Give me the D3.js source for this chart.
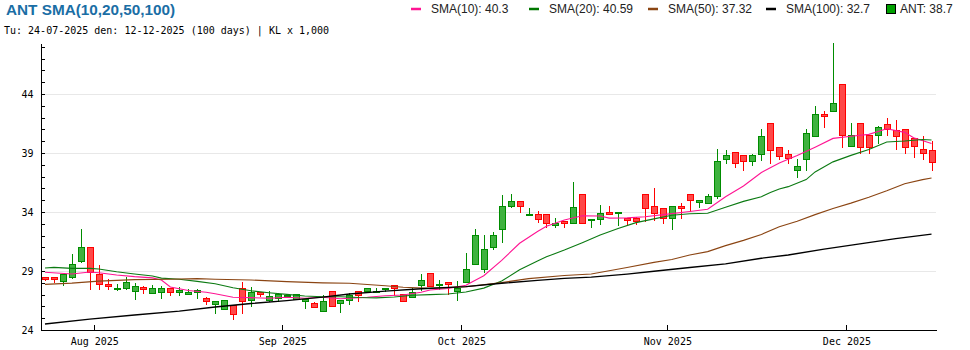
<!DOCTYPE html>
<html><head><meta charset="utf-8">
<script src="https://cdn.jsdelivr.net/npm/d3@7/dist/d3.min.js"></script>
<style>body{margin:0;background:#fff}svg{display:block}</style>
</head><body><svg id="c" width="970" height="350"></svg>
<script>
const dates = [
"2025-07-24","2025-07-25","2025-07-28","2025-07-29","2025-07-30","2025-07-31",
"2025-08-01","2025-08-04","2025-08-05","2025-08-06","2025-08-07","2025-08-08","2025-08-11","2025-08-12","2025-08-13","2025-08-14","2025-08-15","2025-08-18","2025-08-19","2025-08-20","2025-08-21","2025-08-22","2025-08-25","2025-08-26","2025-08-27","2025-08-28","2025-08-29",
"2025-09-03","2025-09-04","2025-09-05","2025-09-08","2025-09-09","2025-09-10","2025-09-11","2025-09-12","2025-09-15","2025-09-16","2025-09-17","2025-09-18","2025-09-19","2025-09-22","2025-09-23","2025-09-24","2025-09-25","2025-09-26","2025-09-29","2025-09-30",
"2025-10-01","2025-10-02","2025-10-03","2025-10-06","2025-10-07","2025-10-08","2025-10-09","2025-10-10","2025-10-13","2025-10-14","2025-10-15","2025-10-16","2025-10-17","2025-10-20","2025-10-21","2025-10-22","2025-10-23","2025-10-24","2025-10-27","2025-10-28","2025-10-29","2025-10-30","2025-10-31",
"2025-11-03","2025-11-04","2025-11-05","2025-11-06","2025-11-07","2025-11-10","2025-11-11","2025-11-12","2025-11-13","2025-11-14","2025-11-17","2025-11-18","2025-11-19","2025-11-20","2025-11-21","2025-11-24","2025-11-25","2025-11-26","2025-11-27","2025-11-28",
"2025-12-01","2025-12-02","2025-12-03","2025-12-04","2025-12-05","2025-12-08","2025-12-09","2025-12-10","2025-12-11","2025-12-12"];

const open = [28.47,28.47,28.12,28.47,29.87,31.0,28.75,27.9,27.45,27.53,
27.3,27.65,27.1,27.2,27.53,27.25,27.05,27.25,26.71,26.18,
25.8,26.09,27.55,26.51,27.25,26.54,26.69,27.0,26.65,26.5,
26.26,25.58,27.28,26.26,26.51,27.28,27.28,27.2,27.48,27.78,
27.02,26.77,27.78,28.8,27.79,28.04,27.28,28.04,29.57,29.14,
31.0,32.53,34.48,34.9,33.72,33.8,33.8,32.87,33.24,33.04,
35.5,33.29,33.45,34.0,33.92,33.46,33.49,35.5,34.48,34.37,
33.46,34.51,35.5,34.82,34.74,35.33,38.46,39.06,38.8,38.29,
38.88,41.51,39.48,38.88,37.53,38.46,40.41,42.27,42.52,44.82,
39.57,41.51,40.5,40.5,41.42,40.97,41.0,40.24,39.33,39.23];
const high = [28.47,28.47,28.75,30.44,32.56,31.0,29.5,28.3,27.9,28.47,
28.0,27.7,27.8,27.7,27.53,27.62,27.45,27.5,26.83,26.49,
26.54,26.09,28.08,27.67,27.25,27.3,27.15,27.0,27.02,26.6,
26.4,26.97,27.28,26.54,27.1,27.28,27.53,27.56,27.56,27.78,
27.02,27.55,28.75,28.8,28.24,28.04,28.15,30.53,32.56,32.02,
32.3,35.44,35.53,34.9,34.34,34.07,33.8,33.49,33.24,36.52,
35.5,33.37,34.59,34.5,34.0,33.46,33.55,35.5,36.03,34.37,
34.48,34.76,35.5,34.99,35.5,39.33,39.24,39.06,38.8,38.9,
41.03,41.51,39.48,39.25,38.46,41.03,42.98,42.6,48.3,44.82,
41.51,41.51,40.5,41.3,41.97,41.83,41.0,40.24,40.41,40.05];
const low = [28.24,28.1,27.8,28.4,29.8,27.5,27.5,27.5,27.35,27.5,
26.6,27.17,27.1,26.74,27.0,27.0,27.05,26.74,26.23,25.47,
25.8,24.96,25.48,26.06,26.9,26.5,26.45,27.0,26.6,25.84,
25.92,25.58,26.0,25.55,26.2,26.5,27.28,27.2,27.28,26.97,
26.5,26.77,27.4,27.7,27.45,27.02,26.57,28.04,29.57,28.95,
30.9,31.49,34.4,34.03,33.72,33.18,32.7,32.75,32.75,33.04,
33.04,32.7,32.97,33.8,32.9,32.9,33.0,33.27,33.35,33.04,
32.53,33.46,34.07,34.4,34.74,35.16,38.12,37.79,37.53,37.96,
38.4,38.18,38.46,38.12,36.94,37.53,40.41,41.23,42.52,39.48,
39.57,39.0,38.97,39.88,40.5,39.31,39.0,38.7,38.46,37.53];
const close = [28.35,28.35,28.75,29.57,31.0,28.95,27.87,27.73,27.55,28.04,
27.73,27.5,27.53,27.53,27.2,27.36,27.25,27.36,26.46,26.49,
26.54,25.38,26.5,27.25,27.08,26.91,27.02,27.0,27.02,26.6,
25.92,26.43,26.0,26.54,26.94,26.99,27.53,27.28,27.56,27.53,
26.5,27.22,28.24,27.76,27.9,27.87,27.56,29.14,32.02,30.86,
32.02,34.51,34.9,34.48,33.8,33.37,33.04,33.04,33.04,34.4,
33.04,33.37,33.89,33.8,34.0,33.35,33.27,34.31,33.89,33.46,
34.48,34.31,34.99,34.99,35.33,38.29,38.8,38.12,38.29,38.8,
40.41,39.23,38.71,38.6,37.87,40.66,42.27,42.16,43.2,40.5,
40.5,39.48,39.48,41.23,41.0,40.41,39.48,39.59,38.97,38.24];

const sma10Days = [0,3,5,6,8,10,12,13,14,16,18,19,21,23,25,27,29,31,33,34,36,38,40,42,43,45,47,49,51,53,55,56,58,60,62,63,65,67,70,72,74,76,78,80,82,84,86,88,90,92,94,96,97,99];
const sma10 = [28.89,28.75,28.92,28.85,28.66,28.52,28.42,28.24,27.65,27.35,27.2,27.07,26.77,26.74,26.69,26.77,26.69,26.77,26.65,26.69,26.77,26.9,26.97,27.2,27.39,27.52,27.8,28.6,29.9,31.35,32.35,32.8,33.32,33.68,33.66,33.48,33.5,33.6,33.86,34.05,34.23,35.3,36.2,37.35,38.15,38.8,39.5,40.24,40.42,40.58,41.06,40.75,40.3,39.8];
const sma20Days = [0,1,3,5,6,8,10,12,13,15,17,19,21,23,25,27,29,31,33,35,37,39,41,43,45,47,49,51,53,55,56,58,60,62,64,66,68,70,72,74,76,78,80,81,82,83,85,86,88,90,92,94,96,98,99];
const sma20 = [29.25,29.31,29.22,29.22,29.17,28.94,28.75,28.58,28.4,28.3,28.12,27.92,27.58,27.32,27.16,27.02,26.88,26.82,26.82,26.75,26.72,26.8,26.95,27.0,27.05,27.22,27.55,28.15,29.1,29.85,30.2,30.78,31.4,32.05,32.6,33.1,33.42,33.72,33.85,33.9,34.4,34.9,35.3,35.65,35.95,36.15,36.75,37.4,38.25,38.8,39.3,39.93,40.02,40.15,40.1];
const sma50Days = [0,3,6,10,14,17,19,23,27,31,34,38,40,43,47,51,54,58,61,65,68,70,72,74,76,78,80,82,84,86,88,90,92,94,96,98,99];
const sma50 = [27.87,27.97,28.14,28.27,28.3,28.35,28.3,28.24,28.1,28.0,27.96,27.75,27.62,27.53,27.67,28.02,28.35,28.62,28.75,29.3,29.73,29.98,30.36,30.64,31.15,31.6,32.1,32.75,33.22,33.78,34.3,34.75,35.25,35.8,36.4,36.75,36.88];
const sma100Days = [0,5,10,15,19,23,27,31,34,38,42,47,51,55,58,61,65,68,72,76,80,83,87,91,95,99];
const sma100 = [24.51,24.92,25.27,25.6,25.95,26.25,26.49,26.78,27.05,27.3,27.5,27.67,27.96,28.2,28.38,28.48,28.74,28.98,29.3,29.6,30.08,30.36,30.85,31.3,31.75,32.12];

const yTicks = [24,29,34,39,44];
const yMinor = d3.range(24,49,1);
const monthStarts = ["2025-08-01","2025-09-03","2025-10-01","2025-11-03","2025-12-01"];
const monthLabels = ["Aug 2025","Sep 2025","Oct 2025","Nov 2025","Dec 2025"];

const legendNames = ["SMA(10)","SMA(20)","SMA(50)","SMA(100)","ANT"];
const legendValues = ["40.3","40.59","37.32","32.7","38.7"];
const titleText = "ANT SMA(10,20,50,100)";
const subtitleText = "Tu: 24-07-2025 den: 12-12-2025 (100 days) | KL x 1,000";

// ---- layout ----
const svg = d3.select("#c");
const L = 40.5, R = 936, T = 43.3, B = 330;
const x = d3.scaleBand().domain(d3.range(dates.length)).range([L, R]);
const xi = d3.scaleLinear().domain([0, dates.length]).range([L, R]);
const y = d3.scaleLinear().domain([24, 48.3]).range([B, T]);
const cx = i => x(i) + x.bandwidth() / 2;

const UP_FILL = "#3fb23f", UP_LINE = "#008c00", DN_FILL = "#ff4848", DN_LINE = "#ff0000";
const C10 = "#ff1493", C20 = "#0b7a12", C50 = "#8b4513", C100 = "#000000";

// grid
svg.append("g").selectAll("line").data(yTicks.filter(v => v > 24)).join("line")
  .attr("x1", L + 1).attr("x2", R)
  .attr("y1", d => Math.round(y(d)) + 0.5).attr("y2", d => Math.round(y(d)) + 0.5)
  .attr("stroke", "#e8e8e8").attr("stroke-width", 1);

// candles
const cg = svg.append("g").attr("shape-rendering", "crispEdges");
d3.range(dates.length).forEach(i => {
  const up = close[i] >= open[i];
  const px = Math.round(cx(i) - 3);
  cg.append("line")
    .attr("x1", px + 3.5).attr("x2", px + 3.5)
    .attr("y1", Math.round(y(high[i]))).attr("y2", Math.round(y(low[i])) + 1)
    .attr("stroke", up ? UP_LINE : DN_LINE).attr("stroke-width", 1);
  const top = Math.round(y(Math.max(open[i], close[i])));
  const bot = Math.round(y(Math.min(open[i], close[i])));
  cg.append("rect")
    .attr("x", px + 0.5).attr("width", 6)
    .attr("y", top + 0.5).attr("height", Math.max(1, bot - top))
    .attr("fill", up ? UP_FILL : DN_FILL)
    .attr("stroke", up ? UP_LINE : DN_LINE).attr("stroke-width", 1);
});

// SMA lines
const line = d3.line().x(d => cx(d[0])).y(d => y(d[1]));
[[sma10Days, sma10, C10, 1.1], [sma20Days, sma20, C20, 1.1], [sma50Days, sma50, C50, 1.15], [sma100Days, sma100, C100, 1.35]]
  .forEach(([days, vals, col, w]) => {
    svg.append("path").datum(days.map((d, k) => [d, vals[k]]))
      .attr("d", line).attr("fill", "none").attr("stroke", col).attr("stroke-width", w);
  });

// y axis
const yAxis = d3.axisLeft(y).tickValues(yMinor).tickSize(-4).tickSizeOuter(0).tickPadding(7)
  .tickFormat(d => yTicks.includes(d) ? String(d) : "");
const ya = svg.append("g").attr("transform", `translate(${L},0)`).call(yAxis);
ya.selectAll("text").attr("font-family", "DejaVu Sans Mono, monospace").attr("font-size", 10).attr("fill", "#000");
ya.selectAll("line,path").attr("stroke", "#000").attr("shape-rendering", "crispEdges");

// x axis
const monthIdx = monthStarts.map(d => dates.indexOf(d));
const xAxis = d3.axisBottom(xi).tickValues(monthIdx).tickSize(-5).tickSizeOuter(0).tickPadding(8)
  .tickFormat((d, k) => monthLabels[k]);
const xa = svg.append("g").attr("transform", `translate(0,${B})`).call(xAxis);
xa.selectAll("text").attr("font-family", "DejaVu Sans Mono, monospace").attr("font-size", 10).attr("fill", "#000");
xa.selectAll("line,path").attr("stroke", "#000").attr("shape-rendering", "crispEdges");

// title & subtitle
svg.append("text").attr("x", 6).attr("y", 15).text(titleText)
  .attr("font-family", "Liberation Sans, Arial, sans-serif").attr("font-weight", "bold")
  .attr("font-size", 15.3).attr("fill", "#1a6ea5");
svg.append("text").attr("x", 4).attr("y", 34).text(subtitleText)
  .attr("font-family", "DejaVu Sans Mono, monospace").attr("font-size", 10).attr("fill", "#000");

// legend
const legCols = [C10, "#007700", C50, C100, "#00a000"];
const legX = [411, 529, 648, 766, 886];
const lg = svg.append("g").attr("font-family", "Liberation Sans, Arial, sans-serif").attr("font-size", 12);
legendNames.forEach((n, k) => {
  if (k < 4) {
    lg.append("line").attr("x1", legX[k]).attr("x2", legX[k] + 10).attr("y1", 9).attr("y2", 9)
      .attr("stroke", legCols[k]).attr("stroke-width", 2.5);
    lg.append("text").attr("x", legX[k] + 20).attr("y", 13).text(`${n}: ${legendValues[k]}`).attr("fill", "#222");
  } else {
    lg.append("rect").attr("x", legX[k] + 0.5).attr("y", 4.5).attr("width", 9).attr("height", 9)
      .attr("fill", legCols[k]).attr("stroke", "#000").attr("stroke-width", 1);
    lg.append("text").attr("x", legX[k] + 14).attr("y", 13).text(`${n}: ${legendValues[k]}`).attr("fill", "#222");
  }
});
</script>
</body></html>
